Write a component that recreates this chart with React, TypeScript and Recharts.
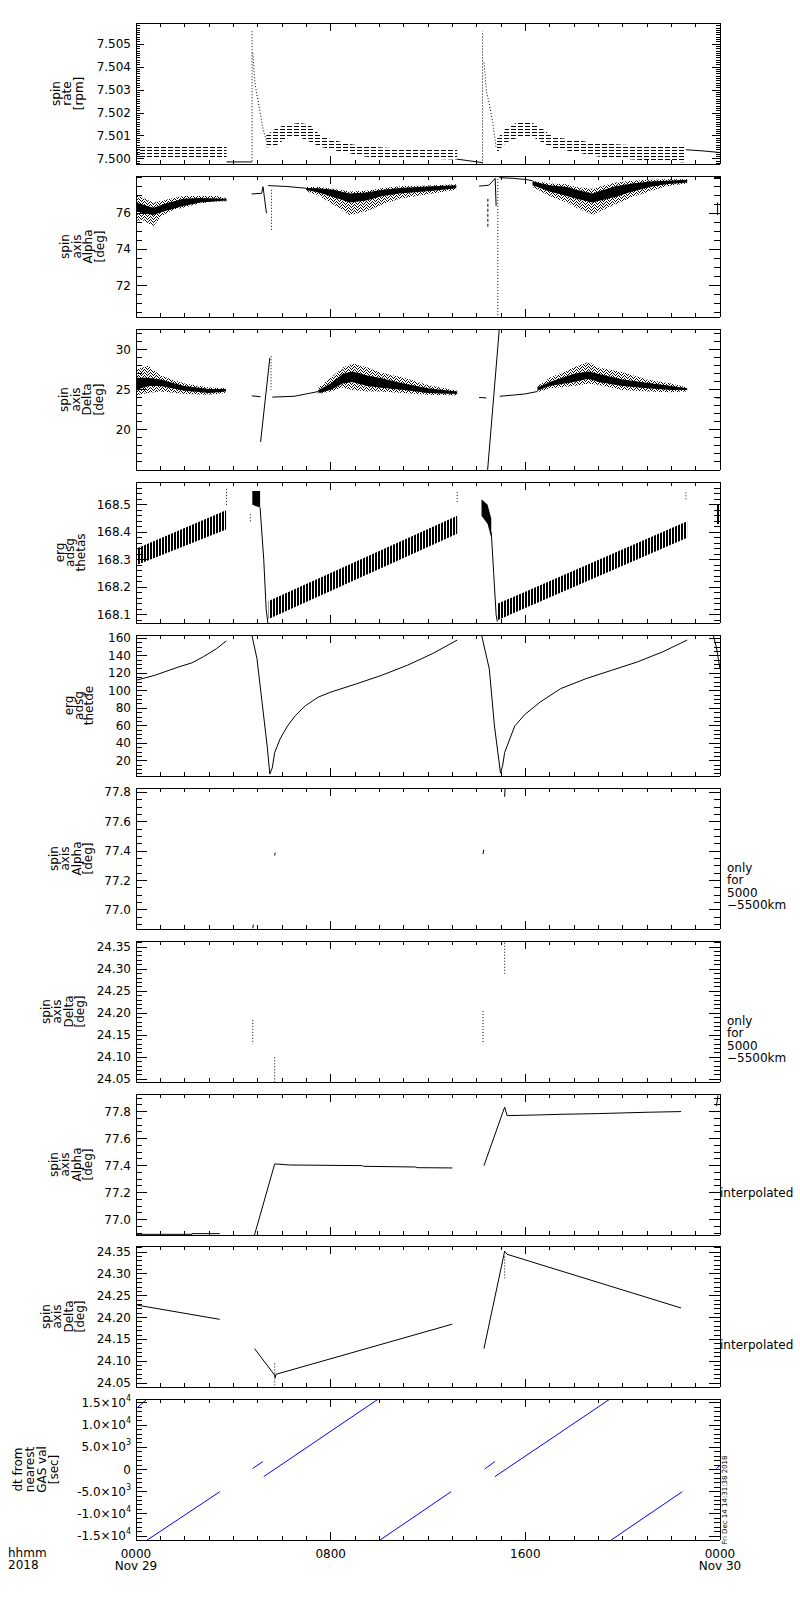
import React from 'react';
import { ComposedChart, Line, Area, XAxis, YAxis } from 'recharts';

const FONT = '"DejaVu Sans", "Liberation Sans", sans-serif';
const PANEL_TOPS = [23, 176, 329, 482, 635, 788, 941, 1094, 1246, 1399];
const PANEL_H = 141;
const PAD = 8;

// time axis (hours after 2018-11-29 00:00)
const HOURS = Array.from({ length: 25 }, (_, i) => i);
const TIME_TICKS = [0, 8, 16, 24];
const TIME_TEXT = ['0000', '0800', '1600', '0000'];
const DATE_TEXT = ['Nov 29', '', '', 'Nov 30'];

type Pt = [number, number];
type Bd = [number, number, number];

// ---- spin rate [rpm]
const rateStripes0: Bd[] = [[0, 7.5, 7.50052], [3.72, 7.5, 7.50052]];
const rateLevel1: Pt[] = [[3.72, 7.49987], [4.77, 7.49987]];
const rateSpike1: Pt[] = [[4.77, 7.4999], [4.77, 7.50565]];
const rateDecay1: Pt[] = [[4.8, 7.5046], [4.88, 7.5034], [4.95, 7.5029], [5.09, 7.5021], [5.22, 7.5013], [5.36, 7.5008]];
const rateHump1: Bd[] = [
  [5.36, 7.5005, 7.50105], [5.77, 7.5006, 7.50134], [6.18, 7.5009, 7.5015], [6.73, 7.50095, 7.50156],
  [7.13, 7.50075, 7.5015], [7.55, 7.50054, 7.50105], [8.09, 7.50039, 7.50083], [8.78, 7.50025, 7.50065],
  [9.46, 7.5001, 7.50054], [10.83, 7.50003, 7.50045], [13.2, 7.49998, 7.50045],
];
const rateLevel2: Pt[] = [[13.2, 7.49999], [14.24, 7.49984]];
const rateSpike2: Pt[] = [[14.24, 7.4998], [14.24, 7.50556]];
const rateDecay2: Pt[] = [[14.3, 7.5042], [14.41, 7.5029], [14.52, 7.5024], [14.66, 7.5016], [14.8, 7.5005]];
const rateHump2: Bd[] = [
  [14.8, 7.5002, 7.5008], [14.93, 7.5004, 7.501], [15.2, 7.5007, 7.50134], [15.62, 7.5009, 7.50156],
  [16.3, 7.50097, 7.50156], [16.71, 7.5007, 7.5013], [17.12, 7.50047, 7.50097], [17.94, 7.50032, 7.50083],
  [19.04, 7.5001, 7.50068], [20.4, 7.49998, 7.5006], [22.6, 7.49985, 7.50054],
];
const rateLevel3: Pt[] = [[22.6, 7.5004], [23.3, 7.50035], [24, 7.50028]];

// ---- spin axis Alpha [deg]
const alphaOuter0: Bd[] = [[0, 75.6, 77.0], [0.3, 75.6, 76.85], [0.71, 75.3, 76.6], [1.12, 75.9, 76.7], [1.53, 76.2, 76.85], [1.94, 76.3, 76.95], [2.63, 76.55, 76.95], [3.31, 76.65, 76.95], [3.72, 76.65, 76.85]];
const alphaCore0: Bd[] = [[0, 76.1, 76.6], [0.71, 75.9, 76.3], [1.12, 76.1, 76.5], [1.94, 76.4, 76.8], [2.63, 76.6, 76.85], [3.72, 76.7, 76.8]];
const alphaJump1: Pt[] = [[4.75, 77.07], [5.16, 77.1], [5.22, 77.47], [5.36, 76.0]];
const alphaDrop1: Pt[] = [[5.57, 77.3], [5.57, 75.0]];
const alphaFlat1: Pt[] = [[5.43, 77.53], [6.2, 77.48], [7.0, 77.38]];
const alphaOuter1: Bd[] = [[7.0, 77.2, 77.45], [7.5, 77.0, 77.45], [8.1, 76.5, 77.35], [8.78, 75.9, 77.2], [9.46, 76.1, 77.25], [10.14, 76.5, 77.4], [10.83, 76.8, 77.5], [12.2, 77.1, 77.55], [13.16, 77.3, 77.6]];
const alphaCore1: Bd[] = [[7.0, 77.28, 77.4], [7.5, 77.15, 77.38], [8.1, 76.9, 77.3], [8.78, 76.6, 77.1], [9.46, 76.7, 77.15], [10.14, 76.95, 77.3], [10.83, 77.1, 77.4], [12.2, 77.25, 77.5], [13.16, 77.38, 77.55]];
const alphaJump2: Pt[] = [[14.1, 77.5], [14.5, 77.55], [14.62, 77.72], [14.76, 77.93], [14.8, 76.4]];
const alphaDash2: Pt[] = [[14.46, 76.8], [14.46, 75.26]];
const alphaDrop2: Pt[] = [[14.87, 77.9], [14.87, 70.3]];
const alphaFlat2: Pt[] = [[14.93, 77.97], [15.5, 77.93], [16.0, 77.87], [16.3, 77.8]];
const alphaOuter2: Bd[] = [[16.3, 77.45, 77.8], [17.0, 76.95, 77.65], [17.7, 76.6, 77.6], [18.1, 76.3, 77.45], [18.75, 75.9, 77.35], [19.7, 76.5, 77.7], [20.4, 76.9, 77.8], [21.1, 77.2, 77.85], [21.8, 77.5, 77.88], [22.65, 77.65, 77.88]];
const alphaCore2: Bd[] = [[16.3, 77.55, 77.75], [17.0, 77.2, 77.55], [17.7, 76.95, 77.45], [18.1, 76.8, 77.3], [18.75, 76.6, 77.1], [19.7, 76.9, 77.5], [20.4, 77.2, 77.65], [21.1, 77.45, 77.75], [21.8, 77.6, 77.8], [22.65, 77.7, 77.85]];
const alphaEnd: Pt[] = [[23.75, 77.92], [24, 77.92]];
const alphaEndDrop: Pt[] = [[23.9, 76.6], [23.9, 75.9]];

// ---- spin axis Delta [deg]
const deltaOuter0: Bd[] = [[0, 24.3, 27.5], [0.5, 24.6, 28.0], [1.0, 24.8, 26.8], [2.0, 24.5, 25.8], [3.0, 24.4, 25.3], [3.7, 24.6, 25.2]];
const deltaCore0: Bd[] = [[0, 25.0, 26.5], [0.5, 25.5, 26.5], [1.0, 25.5, 26.3], [2.0, 24.9, 25.5], [3.0, 24.6, 25.1], [3.7, 24.8, 25.1]];
const deltaFlat0: Pt[] = [[4.76, 24.25], [5.12, 24.15]];
const deltaRise1: Pt[] = [[5.12, 18.5], [5.5, 29.0]];
const deltaDrop1: Pt[] = [[5.55, 29.2], [5.55, 25.0]];
const deltaFlat1: Pt[] = [[5.6, 24.1], [6.5, 24.2], [7.0, 24.5], [7.5, 24.8]];
const deltaOuter1: Bd[] = [[7.5, 24.5, 25.3], [8.0, 24.8, 26.5], [8.5, 25.3, 27.8], [8.9, 25.0, 28.3], [9.5, 24.8, 27.8], [10.0, 24.8, 27.2], [11.0, 24.6, 26.5], [12.0, 24.4, 25.6], [13.2, 24.3, 24.9]];
const deltaCore1: Bd[] = [[7.5, 24.6, 25.0], [8.0, 25.0, 25.8], [8.5, 25.8, 27.0], [8.9, 26.0, 27.3], [9.5, 25.5, 26.8], [10.0, 25.3, 26.5], [11.0, 25.0, 25.8], [12.0, 24.6, 25.2], [13.2, 24.5, 24.8]];
const deltaFlat2a: Pt[] = [[14.1, 24.05], [14.4, 24.0]];
const deltaRise2: Pt[] = [[14.45, 15.0], [14.93, 32.6]];
const deltaFlat2: Pt[] = [[14.95, 24.2], [15.5, 24.35], [16.0, 24.5], [16.5, 24.8]];
const deltaOuter2: Bd[] = [[16.5, 24.7, 25.5], [17.0, 25.2, 26.5], [18.0, 25.5, 27.8], [18.6, 25.8, 28.5], [19.0, 25.6, 27.8], [20.0, 25.0, 27.2], [21.0, 24.8, 26.3], [22.0, 24.7, 25.8], [22.65, 24.8, 25.3]];
const deltaCore2: Bd[] = [[16.5, 24.9, 25.3], [17.0, 25.5, 26.0], [18.0, 26.0, 27.0], [18.6, 26.4, 27.3], [19.0, 26.0, 27.0], [20.0, 25.5, 26.3], [21.0, 25.2, 25.9], [22.0, 25.0, 25.5], [22.65, 25.0, 25.2]];
const deltaEnd: Pt[] = [[23.85, 24.0], [24, 24.0]];

// ---- erg adsg thetas
const thetasBand0: Bd[] = [[0, 168.28, 168.34], [3.7, 168.41, 168.48]];
const thetasTop0: Pt[] = [[3.72, 168.5], [3.72, 168.56]];
const thetasSpot1: Pt[] = [[4.7, 168.44], [4.7, 168.47]];
const thetasCluster1: Bd[] = [[4.78, 168.5, 168.55], [5.1, 168.49, 168.55]];
const thetasDrop1: Pt[] = [[5.1, 168.49], [5.25, 168.3], [5.35, 168.12], [5.42, 168.07]];
const thetasBand1: Bd[] = [[5.45, 168.085, 168.15], [13.2, 168.395, 168.46]];
const thetasTop1: Pt[] = [[13.2, 168.51], [13.2, 168.55]];
const thetasCluster2: Bd[] = [[14.2, 168.46, 168.52], [14.45, 168.43, 168.5], [14.6, 168.38, 168.45]];
const thetasDrop2: Pt[] = [[14.6, 168.4], [14.7, 168.25], [14.8, 168.1], [14.85, 168.075]];
const thetasBand2: Bd[] = [[14.85, 168.08, 168.14], [22.65, 168.38, 168.44]];
const thetasTop2: Pt[] = [[22.6, 168.52], [22.6, 168.545]];
const thetasEnd: Bd[] = [[23.85, 168.43, 168.5], [24, 168.43, 168.5]];

// ---- erg adsg thetde
const thetdeArc0: Pt[] = [[0, 112], [0.8, 118], [1.72, 127], [2.3, 132], [2.77, 139], [3.3, 148], [3.71, 157]];
const thetdeArc1: Pt[] = [[4.76, 163.8], [4.97, 137], [5.18, 87], [5.39, 37], [5.5, 5], [5.6, 12], [5.7, 29.5], [5.92, 45], [6.23, 60], [6.55, 71.7], [6.96, 83], [7.49, 92.8], [8.01, 98.6], [9.06, 108], [10.1, 117.8], [11.16, 129.3], [12.2, 142.7], [13.2, 158]];
const thetdeArc2: Pt[] = [[14.2, 163.8], [14.52, 125], [14.73, 60], [14.98, 6], [15.07, 15], [15.15, 29.5], [15.36, 45], [15.57, 60], [15.98, 73], [16.6, 87], [17.45, 102.5], [18.5, 114], [19.55, 123.5], [20.6, 133], [21.65, 144.6], [22.65, 158]];
const thetdeEnd: Pt[] = [[23.72, 163.8], [23.85, 150], [24, 125]];

// ---- spin axis Alpha / Delta, only for 5000-5500km
const alphaOnly1: Pt[] = [[4.8, 76.875], [4.82, 76.9]];
const alphaOnly2: Pt[] = [[5.7, 77.37], [5.72, 77.39]];
const alphaOnly3: Pt[] = [[14.26, 77.38], [14.29, 77.41]];
const alphaOnly4: Pt[] = [[15.15, 77.77], [15.17, 77.83]];
const deltaOnly1: Pt[] = [[4.8, 24.185], [4.8, 24.13]];
const deltaOnly2: Pt[] = [[5.7, 24.1], [5.7, 24.044]];
const deltaOnly3: Pt[] = [[14.26, 24.205], [14.26, 24.13]];
const deltaOnly4: Pt[] = [[15.15, 24.36], [15.15, 24.29]];

// ---- interpolated
const alphaInterp1: Pt[] = [[0, 76.892], [2.3, 76.892], [2.3, 76.897], [3.44, 76.897]];
const alphaInterp2: Pt[] = [[4.87, 76.887], [5.7, 77.413], [6.3, 77.405], [9.3, 77.4], [9.35, 77.395], [11.5, 77.39], [11.55, 77.385], [13.0, 77.383]];
const alphaInterp3: Pt[] = [[14.3, 77.4], [15.15, 77.833], [15.25, 77.77], [16.5, 77.775], [17.5, 77.78], [19.0, 77.785], [21.0, 77.795], [22.4, 77.8]];
const alphaInterpEnd: Pt[] = [[23.85, 77.84], [23.92, 77.92]];
const deltaInterp1: Pt[] = [[0, 24.229], [3.44, 24.196]];
const deltaInterp2: Pt[] = [[4.87, 24.129], [5.7, 24.068], [5.72, 24.062], [5.75, 24.07], [13.0, 24.185]];
const deltaInterpDots2: Pt[] = [[5.7, 24.095], [5.7, 24.045]];
const deltaInterp3: Pt[] = [[14.3, 24.129], [15.15, 24.352], [15.25, 24.345], [22.4, 24.222]];
const deltaInterpDots3: Pt[] = [[15.15, 24.34], [15.15, 24.29]];

// ---- dt from nearest GAS val [sec]
const gasDt1: Pt[] = [[0, 13700], [0.46, 15900]];
const gasDt2: Pt[] = [[0.46, -15900], [3.45, -5000]];
const gasDt3: Pt[] = [[4.79, 200], [5.21, 1800]];
const gasDt4: Pt[] = [[5.25, -1600], [9.96, 15900]];
const gasDt5: Pt[] = [[10.03, -15900], [12.95, -5000]];
const gasDt6: Pt[] = [[14.33, 100], [14.75, 1800]];
const gasDt7: Pt[] = [[14.75, -1600], [19.48, 15900]];
const gasDt8: Pt[] = [[19.53, -15900], [22.45, -5000]];
const gasDt9: Pt[] = [[23.85, 200], [24, 900]];

type Kind = 'line' | 'dots' | 'dash' | 'blue' | 'stripe' | 'speckle' | 'hatch' | 'solid';
interface Series { kind: Kind; pts: (Pt | Bd)[] }
interface Panel {
  domain: [number, number];
  major: number[];
  minorStart: number;
  minorEnd: number;
  minorStep: number;
  majorLen: number;
  minorLen: number;
  format: (v: number) => React.ReactNode;
  label: string[];
  labelX: number[];
  note?: string[];
  series: Series[];
}

const fixed = (d: number) => (v: number) => v.toFixed(d);
const sci = (v: number) => {
  if (v === 0) return '0';
  const e = Math.floor(Math.log10(Math.abs(v)) + 1e-9);
  const m = (v / Math.pow(10, e)).toFixed(1);
  return (
    <>
      {m}×10<tspan dy={-5} fontSize={8}>{e}</tspan>
    </>
  );
};

const ONLY_NOTE = [' only', 'for', '5000', '−5500km'];
const INTERP_NOTE = ['interpolated'];

// speckle pixels inside a 6x6 tile, for the noisy attitude bands
const SPECKLE = [[0, 0], [3, 0], [1, 1], [5, 1], [2, 2], [4, 2], [0, 3], [3, 3], [1, 4], [5, 4], [2, 5], [4, 5]];

const PANELS: Panel[] = [
  {
    domain: [7.49978, 7.50592], major: [7.5, 7.501, 7.502, 7.503, 7.504, 7.505],
    minorStart: 7.4998, minorEnd: 7.5059, minorStep: 0.0001, majorLen: 8, minorLen: 4,
    format: fixed(3), label: ['spin', 'rate', '[rpm]'], labelX: [55.5, 67, 79],
    series: [
      { kind: 'stripe', pts: rateStripes0 }, { kind: 'line', pts: rateLevel1 }, { kind: 'dots', pts: rateSpike1 },
      { kind: 'dots', pts: rateDecay1 }, { kind: 'stripe', pts: rateHump1 }, { kind: 'line', pts: rateLevel2 },
      { kind: 'dots', pts: rateSpike2 }, { kind: 'dots', pts: rateDecay2 }, { kind: 'stripe', pts: rateHump2 },
      { kind: 'line', pts: rateLevel3 },
    ],
  },
  {
    domain: [70.27, 78.06], major: [72, 74, 76],
    minorStart: 70.5, minorEnd: 78, minorStep: 0.5, majorLen: 11, minorLen: 6,
    format: fixed(0), label: ['spin', 'axis', 'Alpha', '[deg]'], labelX: [65, 76.5, 88, 99.5],
    series: [
      { kind: 'speckle', pts: alphaOuter0 }, { kind: 'solid', pts: alphaCore0 }, { kind: 'line', pts: alphaJump1 },
      { kind: 'dots', pts: alphaDrop1 }, { kind: 'line', pts: alphaFlat1 }, { kind: 'speckle', pts: alphaOuter1 },
      { kind: 'solid', pts: alphaCore1 }, { kind: 'line', pts: alphaJump2 }, { kind: 'dash', pts: alphaDash2 },
      { kind: 'dots', pts: alphaDrop2 }, { kind: 'line', pts: alphaFlat2 }, { kind: 'speckle', pts: alphaOuter2 },
      { kind: 'solid', pts: alphaCore2 }, { kind: 'line', pts: alphaEnd }, { kind: 'line', pts: alphaEndDrop },
    ],
  },
  {
    domain: [15.0, 32.6], major: [20, 25, 30],
    minorStart: 16, minorEnd: 32, minorStep: 1, majorLen: 11, minorLen: 6,
    format: fixed(0), label: ['spin', 'axis', 'Delta', '[deg]'], labelX: [64, 75.5, 87, 98.5],
    series: [
      { kind: 'speckle', pts: deltaOuter0 }, { kind: 'solid', pts: deltaCore0 }, { kind: 'line', pts: deltaFlat0 },
      { kind: 'line', pts: deltaRise1 }, { kind: 'dots', pts: deltaDrop1 }, { kind: 'line', pts: deltaFlat1 },
      { kind: 'speckle', pts: deltaOuter1 }, { kind: 'solid', pts: deltaCore1 }, { kind: 'line', pts: deltaFlat2a },
      { kind: 'line', pts: deltaRise2 }, { kind: 'line', pts: deltaFlat2 }, { kind: 'speckle', pts: deltaOuter2 },
      { kind: 'solid', pts: deltaCore2 }, { kind: 'line', pts: deltaEnd },
    ],
  },
  {
    domain: [168.07, 168.583], major: [168.1, 168.2, 168.3, 168.4, 168.5],
    minorStart: 168.08, minorEnd: 168.58, minorStep: 0.02, majorLen: 11, minorLen: 6,
    format: fixed(1), label: ['erg', 'adsg', 'thetas'], labelX: [59.5, 70, 80.5],
    series: [
      { kind: 'hatch', pts: thetasBand0 }, { kind: 'dots', pts: thetasTop0 }, { kind: 'dots', pts: thetasSpot1 },
      { kind: 'solid', pts: thetasCluster1 }, { kind: 'line', pts: thetasDrop1 }, { kind: 'hatch', pts: thetasBand1 },
      { kind: 'dots', pts: thetasTop1 }, { kind: 'solid', pts: thetasCluster2 }, { kind: 'line', pts: thetasDrop2 },
      { kind: 'hatch', pts: thetasBand2 }, { kind: 'dots', pts: thetasTop2 }, { kind: 'hatch', pts: thetasEnd },
    ],
  },
  {
    domain: [2.7, 163.8], major: [20, 40, 60, 80, 100, 120, 140, 160],
    minorStart: 5, minorEnd: 160, minorStep: 5, majorLen: 11, minorLen: 6,
    format: fixed(0), label: ['erg', 'adsg', 'thetde'], labelX: [69, 79, 89],
    series: [
      { kind: 'line', pts: thetdeArc0 }, { kind: 'line', pts: thetdeArc1 },
      { kind: 'line', pts: thetdeArc2 }, { kind: 'line', pts: thetdeEnd },
    ],
  },
  {
    domain: [76.87, 77.83], major: [77.0, 77.2, 77.4, 77.6, 77.8],
    minorStart: 76.9, minorEnd: 77.8, minorStep: 0.05, majorLen: 11, minorLen: 6,
    format: fixed(1), label: ['spin', 'axis', 'Alpha', '[deg]'], labelX: [53.5, 65, 76.5, 88], note: ONLY_NOTE,
    series: [
      { kind: 'line', pts: alphaOnly1 }, { kind: 'line', pts: alphaOnly2 },
      { kind: 'line', pts: alphaOnly3 }, { kind: 'line', pts: alphaOnly4 },
    ],
  },
  {
    domain: [24.044, 24.364], major: [24.05, 24.1, 24.15, 24.2, 24.25, 24.3, 24.35],
    minorStart: 24.05, minorEnd: 24.36, minorStep: 0.01, majorLen: 11, minorLen: 6,
    format: fixed(2), label: ['spin', 'axis', 'Delta', '[deg]'], labelX: [45.5, 57, 68.5, 80], note: ONLY_NOTE,
    series: [
      { kind: 'dots', pts: deltaOnly1 }, { kind: 'dots', pts: deltaOnly2 },
      { kind: 'dots', pts: deltaOnly3 }, { kind: 'dots', pts: deltaOnly4 },
    ],
  },
  {
    domain: [76.887, 77.93], major: [77.0, 77.2, 77.4, 77.6, 77.8],
    minorStart: 76.9, minorEnd: 77.9, minorStep: 0.05, majorLen: 11, minorLen: 6,
    format: fixed(1), label: ['spin', 'axis', 'Alpha', '[deg]'], labelX: [53.5, 65, 76.5, 88], note: INTERP_NOTE,
    series: [
      { kind: 'line', pts: alphaInterp1 }, { kind: 'line', pts: alphaInterp2 },
      { kind: 'line', pts: alphaInterp3 }, { kind: 'line', pts: alphaInterpEnd },
    ],
  },
  {
    domain: [24.041, 24.364], major: [24.05, 24.1, 24.15, 24.2, 24.25, 24.3, 24.35],
    minorStart: 24.05, minorEnd: 24.36, minorStep: 0.01, majorLen: 11, minorLen: 6,
    format: fixed(2), label: ['spin', 'axis', 'Delta', '[deg]'], labelX: [45.5, 57, 68.5, 80], note: INTERP_NOTE,
    series: [
      { kind: 'line', pts: deltaInterp1 }, { kind: 'line', pts: deltaInterp2 }, { kind: 'dots', pts: deltaInterpDots2 },
      { kind: 'line', pts: deltaInterp3 }, { kind: 'dots', pts: deltaInterpDots3 },
    ],
  },
  {
    domain: [-15900, 15900], major: [-15000, -10000, -5000, 0, 5000, 10000, 15000],
    minorStart: -15000, minorEnd: 15000, minorStep: 1000, majorLen: 11, minorLen: 6,
    format: sci, label: ['dt from', 'nearest', 'GAS val', '[sec]'], labelX: [18, 30, 42, 54],
    series: [
      { kind: 'blue', pts: gasDt1 }, { kind: 'blue', pts: gasDt2 }, { kind: 'blue', pts: gasDt3 },
      { kind: 'blue', pts: gasDt4 }, { kind: 'blue', pts: gasDt5 }, { kind: 'blue', pts: gasDt6 },
      { kind: 'blue', pts: gasDt7 }, { kind: 'blue', pts: gasDt8 }, { kind: 'blue', pts: gasDt9 },
    ],
  },
];

const tickList = (p: Panel) => {
  const out: number[] = [];
  const n = Math.round((p.minorEnd - p.minorStart) / p.minorStep);
  for (let i = 0; i <= n; i++) out.push(Number((p.minorStart + i * p.minorStep).toFixed(6)));
  return out;
};

const toRows = (pts: (Pt | Bd)[]) =>
  pts.map((p) => ({ h: p[0], v: p.length === 3 ? [p[1], p[2]] : p[1] }));

const isMajor = (p: Panel, v: number) => p.major.some((m) => Math.abs(m - v) < p.minorStep * 0.01);

const yTick = (p: Panel, side: 'left' | 'right') => (props: any) => {
  const { x, y, payload } = props;
  const v = payload.value as number;
  const major = isMajor(p, v);
  const len = major ? p.majorLen : p.minorLen;
  const dir = side === 'left' ? 1 : -1;
  return (
    <g>
      <line x1={x} y1={y} x2={x + dir * len} y2={y} stroke="#000" shapeRendering="crispEdges" />
      {side === 'left' && major && (
        <text x={x - 5} y={y} textAnchor="end" dominantBaseline="central" fontSize={12} fontFamily={FONT} fill="#000">
          {p.format(v)}
        </text>
      )}
    </g>
  );
};

const xTick = (side: 'top' | 'bottom', labels: boolean) => (props: any) => {
  const { x, y, payload } = props;
  const idx = TIME_TICKS.indexOf(payload.value);
  const len = idx >= 0 ? 8 : 4;
  const dir = side === 'bottom' ? -1 : 1;
  return (
    <g>
      <line x1={x} y1={y} x2={x} y2={y + dir * len} stroke="#000" shapeRendering="crispEdges" />
      {labels && idx >= 0 && (
        <text textAnchor="middle" fontSize={12} fontFamily={FONT} fill="#000">
          <tspan x={x} y={y + 18}>{TIME_TEXT[idx]}</tspan>
          <tspan x={x} y={y + 30}>{DATE_TEXT[idx]}</tspan>
        </text>
      )}
    </g>
  );
};

function PanelChart({ p, i }: { p: Panel; i: number }) {
  const last = i === PANELS.length - 1;
  const mb = last ? 47 : PAD - 1;
  const height = PAD + PANEL_H + 1 + mb;
  const ticks = tickList(p);
  const id = `pp${i}`;
  const fillFor = (k: Kind) =>
    k === 'solid' ? '#000' : `url(#${id}-${k})`;
  return (
    <div style={{ position: 'absolute', left: 0, top: PANEL_TOPS[i] - PAD }}>
      <ComposedChart width={800} height={height} margin={{ top: PAD - 1, right: 79, bottom: mb, left: 135 }}>
        <defs>
          <pattern id={`${id}-stripe`} patternUnits="userSpaceOnUse" width={7} height={3}>
            <rect x={0} y={0} width={5} height={1} fill="#000" />
          </pattern>
          <pattern id={`${id}-speckle`} patternUnits="userSpaceOnUse" width={6} height={6}>
            {SPECKLE.map(([sx, sy], k) => (
              <rect key={k} x={sx} y={sy} width={1} height={1} fill="#000" />
            ))}
          </pattern>
          <pattern id={`${id}-hatch`} patternUnits="userSpaceOnUse" width={3} height={4}>
            <rect x={0} y={0} width={2} height={4} fill="#000" />
          </pattern>
        </defs>
        <XAxis
          xAxisId="b" type="number" dataKey="h" domain={[0, 24]} allowDataOverflow ticks={HOURS} interval={0}
          height={1} tickSize={0} tickMargin={0} tickLine={false}
          axisLine={{ stroke: '#000', shapeRendering: 'crispEdges' }} tick={xTick('bottom', last)}
        />
        <XAxis
          xAxisId="t" orientation="top" type="number" dataKey="h" domain={[0, 24]} allowDataOverflow ticks={HOURS}
          interval={0} height={1} tickSize={0} tickMargin={0} tickLine={false}
          axisLine={{ stroke: '#000', shapeRendering: 'crispEdges' }} tick={xTick('top', false)}
        />
        <YAxis
          yAxisId="l" type="number" domain={p.domain} allowDataOverflow ticks={ticks} interval={0} width={1}
          tickSize={0} tickMargin={0} tickLine={false}
          axisLine={{ stroke: '#000', shapeRendering: 'crispEdges' }} tick={yTick(p, 'left')}
        />
        <YAxis
          yAxisId="r" orientation="right" type="number" domain={p.domain} allowDataOverflow ticks={ticks}
          interval={0} width={1} tickSize={0} tickMargin={0} tickLine={false}
          axisLine={{ stroke: '#000', shapeRendering: 'crispEdges' }} tick={yTick(p, 'right')}
        />
        {p.series.map((s, j) => {
          const data = toRows(s.pts);
          if (s.kind === 'stripe' || s.kind === 'speckle' || s.kind === 'hatch' || s.kind === 'solid') {
            return (
              <Area
                key={j} data={data} xAxisId="b" yAxisId="l" dataKey="v" type="linear" stroke="none"
                fill={fillFor(s.kind)} fillOpacity={1} dot={false} activeDot={false} isAnimationActive={false}
              />
            );
          }
          return (
            <Line
              key={j} data={data} xAxisId="b" yAxisId="l" dataKey="v" type="linear"
              stroke={s.kind === 'blue' ? '#0000ff' : '#000'} strokeWidth={1}
              strokeDasharray={s.kind === 'dots' ? '1 2' : s.kind === 'dash' ? '3 2' : undefined}
              dot={false} activeDot={false} isAnimationActive={false}
            />
          );
        })}
      </ComposedChart>
    </div>
  );
}

export default function App() {
  return (
    <div style={{ position: 'absolute', left: 0, top: 0, width: 800, height: 1600, background: '#fff' }}>
      {PANELS.map((p, i) => <PanelChart key={i} p={p} i={i} />)}
      <svg width={800} height={1600} style={{ position: 'absolute', left: 0, top: 0, pointerEvents: 'none' }}>
        <g fontFamily={FONT} fontSize={12} fill="#000">
          {PANELS.map((p, i) => {
            const cy = PANEL_TOPS[i] + PANEL_H / 2;
            return (
              <g key={i}>
                {p.label.map((t, j) => (
                  <text key={j} transform={`translate(${p.labelX[j]},${cy}) rotate(-90)`} textAnchor="middle" dominantBaseline="central">
                    {t}
                  </text>
                ))}
                {p.note && (
                  <text>
                    {p.note.map((t, j) => (
                      <tspan key={j} x={p.note!.length > 1 ? 727 : 720} y={cy + (p.note!.length > 1 ? 13 + j * 12.5 : 32) }>
                        {t}
                      </tspan>
                    ))}
                  </text>
                )}
              </g>
            );
          })}
          <text x={8} y={1557}>hhmm</text>
          <text x={8} y={1569}>2018</text>
          <text transform="translate(727,1500) rotate(-90)" textAnchor="middle" fontSize={7}>
            Fri Dec 14 14:31:38 2018
          </text>
        </g>
      </svg>
    </div>
  );
}
